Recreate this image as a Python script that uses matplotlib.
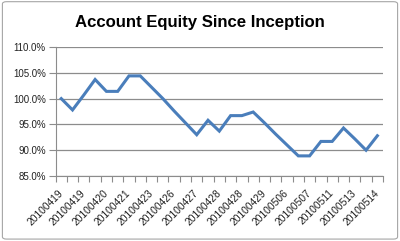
import matplotlib
matplotlib.use("Agg")
import matplotlib.pyplot as plt
from matplotlib.patches import FancyBboxPatch
import numpy as np

title = "Account Equity Since Inception"
equity = [100.0, 97.8, 100.7, 103.7, 101.4, 101.4, 104.4, 104.4, 102.2, 100.0,
          97.6, 95.3, 93.0, 95.8, 93.7, 96.7, 96.7, 97.4, 95.3, 93.1,
          91.0, 88.9, 88.9, 91.7, 91.7, 94.3, 92.2, 90.0, 92.8]
tick_labels = ["20100419", "20100419", "20100420", "20100421", "20100423",
               "20100426", "20100427", "20100428", "20100428", "20100429",
               "20100506", "20100507", "20100511", "20100513", "20100514"]
y_ticks = [85, 90, 95, 100, 105, 110]

fig = plt.figure(figsize=(4.0, 2.41), dpi=100)
fig.patch.set_facecolor("white")

# chart border
border = FancyBboxPatch((0.006, 0.008), 0.988, 0.985, boxstyle="round,pad=0,rounding_size=0.01",
                        transform=fig.transFigure, fill=False, edgecolor="#a6a6a6", linewidth=0.8)
fig.patches.append(border)

ax = fig.add_axes([0.139, 0.2697, 0.8185, 0.5353])
n = len(equity)
x = np.arange(n)
ax.plot(x, equity, color="#4a7ebb", linewidth=2.2, solid_joinstyle="miter")

ax.set_xlim(-0.5, n - 0.5)
ax.set_ylim(85, 110)
ax.set_yticks(y_ticks)
ax.set_yticklabels([f"{v:.1f}%" for v in y_ticks])
ax.yaxis.grid(True, color="#8c8c8c", linewidth=0.9)
ax.set_axisbelow(True)

label_pos = x[::2]
ax.set_xticks(label_pos)
ax.set_xticklabels(tick_labels, rotation=45, ha="right", va="center",
                   rotation_mode="anchor")
ax.set_xticks(np.arange(-0.5, n, 1.0), minor=True)
ax.tick_params(axis="x", which="major", length=0, pad=11, labelsize=7.4, labelcolor="#222222")
ax.tick_params(axis="x", which="minor", length=4, color="#8c8c8c", width=0.8, direction="out")
ax.tick_params(axis="y", length=5, color="#8c8c8c", width=0.8, labelsize=7,
               labelcolor="#222222", pad=2)

for lab in ax.get_xticklabels() + ax.get_yticklabels():
    lab.set_fontfamily("Liberation Sans")

for s in ["top", "right"]:
    ax.spines[s].set_visible(False)
for s in ["left", "bottom"]:
    ax.spines[s].set_color("#8c8c8c")
    ax.spines[s].set_linewidth(0.8)

fig.text(0.5, 0.905, title, ha="center", va="center", fontsize=12.1,
         fontweight="bold", fontfamily="Liberation Sans", color="black")

fig.savefig("out.png", dpi=100, facecolor="white")
